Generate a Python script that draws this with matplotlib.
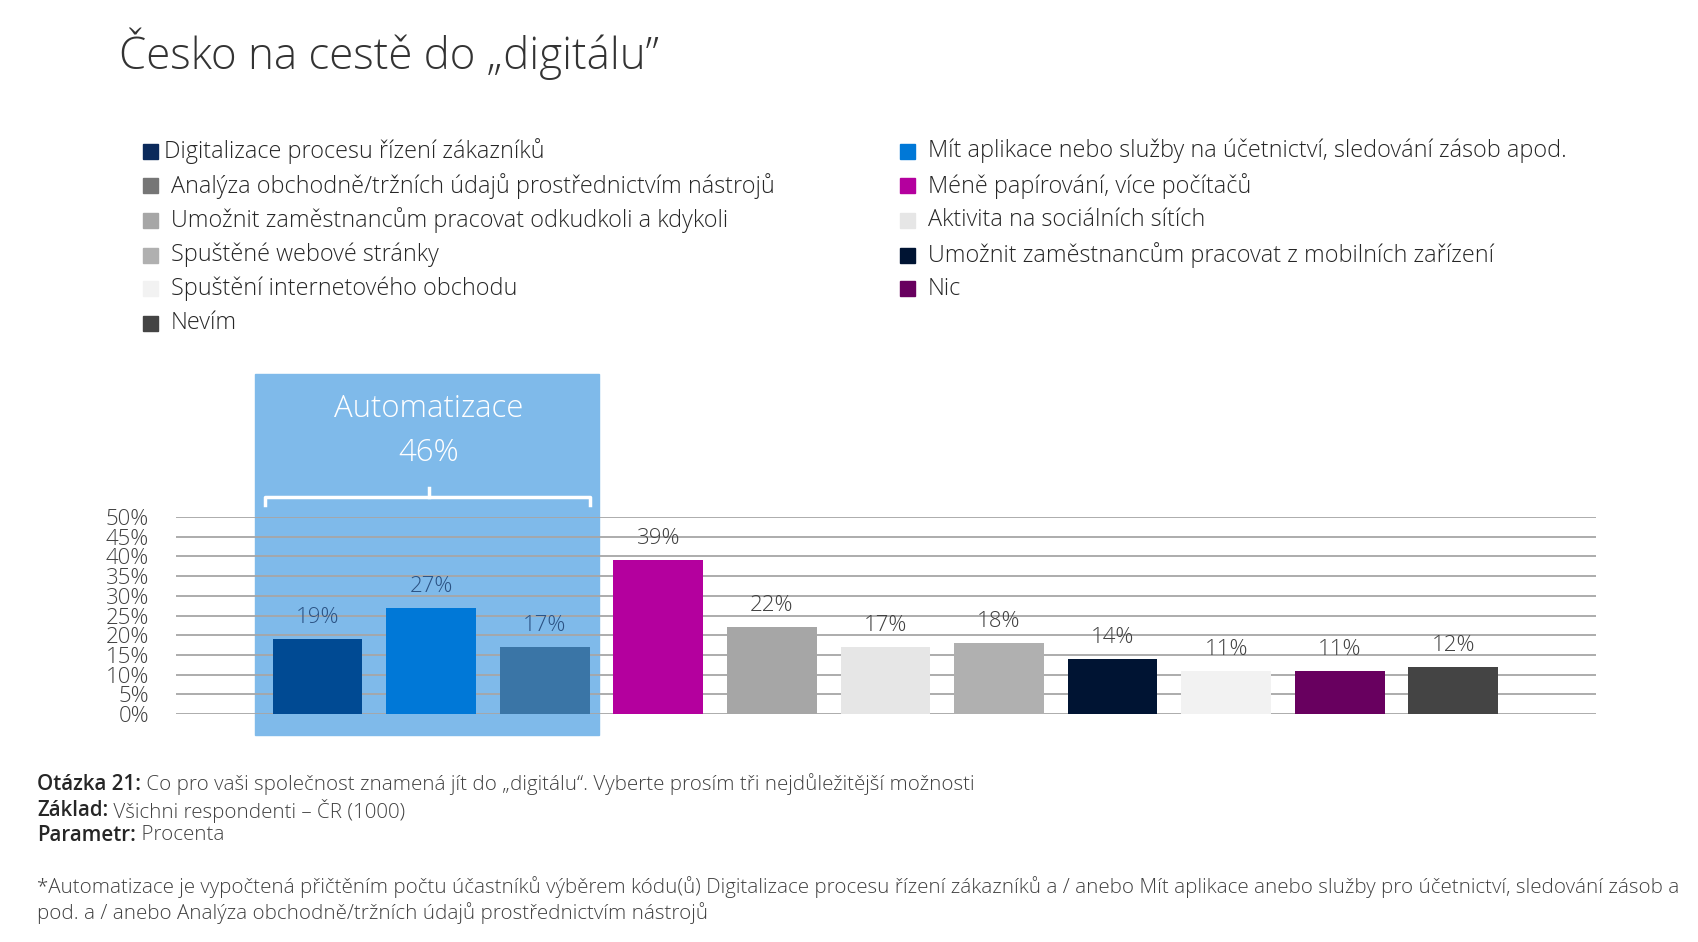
import numpy as np
import matplotlib
matplotlib.use('Agg')
import matplotlib.pyplot as plt
from matplotlib.patches import Rectangle

plt.rcParams['font.family'] = ['Open Sans', 'DejaVu Sans']

# data
categories = ['Digitalizace procesu řízení zákazníků',
              'Mít aplikace nebo služby na účetnictví, sledování zásob apod.',
              'Analýza obchodně/tržních údajů prostřednictvím nástrojů',
              'Méně papírování, více počítačů',
              'Umožnit zaměstnancům pracovat odkudkoli a kdykoli',
              'Aktivita na sociálních sítích',
              'Spuštěné webové stránky',
              'Umožnit zaměstnancům pracovat z mobilních zařízení',
              'Spuštění internetového obchodu',
              'Nic',
              'Nevím']
values = [19, 27, 17, 39, 22, 17, 18, 14, 11, 11, 12]
bar_colors = ['#004A93', '#0078D7', '#3A75A6', '#B4009E', '#A6A6A6', '#E6E6E6',
              '#B0B0B0', '#001433', '#F2F2F2', '#68005F', '#444444']

legend_left = ['Digitalizace procesu řízení zákazníků',
               'Analýza obchodně/tržních údajů prostřednictvím nástrojů',
               'Umožnit zaměstnancům pracovat odkudkoli a kdykoli',
               'Spuštěné webové stránky',
               'Spuštění internetového obchodu',
               'Nevím']
legend_left_colors = ['#0B2A5B', '#767676', '#A6A6A6', '#B0B0B0', '#F2F2F2', '#444444']
legend_right = ['Mít aplikace nebo služby na účetnictví, sledování zásob apod.',
                'Méně papírování, více počítačů',
                'Aktivita na sociálních sítích',
                'Umožnit zaměstnancům pracovat z mobilních zařízení',
                'Nic']
legend_right_colors = ['#0078D7', '#B4009E', '#E6E6E6', '#001433', '#68005F']

yticks = [0, 5, 10, 15, 20, 25, 30, 35, 40, 45, 50]
group_label = 'Automatizace'
group_value = '46%'

footer = [('Otázka 21:', ' Co pro vaši společnost znamená jít do „digitálu“. Vyberte prosím tři nejdůležitější možnosti'),
          ('Základ:', ' Všichni respondenti – ČR (1000)'),
          ('Parametr:', ' Procenta')]
footnote = ['*Automatizace je vypočtená přičtěním počtu účastníků výběrem kódu(ů) Digitalizace procesu řízení zákazníků a / anebo Mít aplikace anebo služby pro účetnictví, sledování zásob a',
            'pod. a / anebo Analýza obchodně/tržních údajů prostřednictvím nástrojů']

W, H = 1699, 942
fig = plt.figure(figsize=(W / 100, H / 100), dpi=100)

def fx(px):
    return px / W

def fy(py):
    return 1 - py / H

# title
fig.text(fx(119), fy(53.5), 'Česko na cestě do „digitálu”', fontsize=31.6, fontweight='light',
         color='#333333', va='center', ha='left')

# legend
sq = 15
rows = [151, 185.6, 220.3, 255, 288.6, 323.3]
for i, (lab, c) in enumerate(zip(legend_left, legend_left_colors)):
    y = rows[i]
    fig.patches.append(Rectangle((fx(143), fy(y + sq / 2)), sq / W, sq / H, color=c,
                                 transform=fig.transFigure, figure=fig))
    tx = 164 if i == 0 else 171
    fig.text(fx(tx), fy(y), lab, fontsize=16.8, fontweight='light', color='#262626',
             va='center', ha='left')
for i, (lab, c) in enumerate(zip(legend_right, legend_right_colors)):
    y = rows[i]
    fig.patches.append(Rectangle((fx(900), fy(y + sq / 2)), sq / W, sq / H, color=c,
                                 transform=fig.transFigure, figure=fig))
    fig.text(fx(928), fy(y), lab, fontsize=16.8, fontweight='light', color='#262626',
             va='center', ha='left')

# chart
ax = fig.add_axes([fx(175.6), fy(714), fx(1596) - fx(175.6), fy(517) - fy(714)])
x = np.arange(len(values))
ax.set_xlim(-1.25, 11.256)
ax.set_ylim(0, 50)
ax.patch.set_alpha(0)

# highlighted group box
ax.add_patch(Rectangle((-0.553, -5.3), 3.034, 91.6, color='#7FBAEA', zorder=0, clip_on=False))
for t in yticks:
    ax.axhline(t, color='#A6A6A6', lw=1.3, zorder=1)
ax.bar(x, values, width=0.79, color=bar_colors, zorder=2)

for i, v in enumerate(values):
    col = '#2B5283' if i < 3 else '#404040'
    ax.annotate(f'{v}%', (x[i], v), xytext=(0, 15.5), textcoords='offset points',
                ha='center', va='center', fontsize=16, fontweight='light', color=col)

ax.set_yticks(yticks)
ax.set_yticklabels([f'{t}%' for t in yticks], fontsize=16, fontweight='light', color='#404040')
ax.tick_params(axis='y', length=0, pad=19)
ax.set_xticks([])
for s in ax.spines.values():
    s.set_visible(False)

# bracket
bx0, bx1, bxm = -0.46, 2.40, 0.98
ax.plot([bx0, bx0, bx1, bx1], [53.0, 55.2, 55.2, 53.0], color='white', lw=2.5,
        clip_on=False, zorder=3, solid_joinstyle='round')
ax.plot([bxm, bxm], [55.2, 57.4], color='white', lw=2.5, clip_on=False, zorder=3)
ax.text(bxm, 77.5, group_label, ha='center', va='center', fontsize=22.4, fontweight='light',
        color='white', zorder=3)
ax.text(bxm, 66.3, group_value, ha='center', va='center', fontsize=22.4, fontweight='light',
        color='white', zorder=3)

# footer
renderer = fig.canvas.get_renderer()
for (b, rest), y in zip(footer, [784.5, 810.5, 835.5]):
    t = fig.text(fx(37), fy(y), b, fontsize=14.8, fontweight='semibold', color='#262626',
                 va='center', ha='left')
    bb = t.get_window_extent(renderer)
    fig.text(bb.x1 / W, fy(y), rest, fontsize=14.8, fontweight='light', color='#404040',
             va='center', ha='left')
for line, y in zip(footnote, [887.5, 913.5]):
    fig.text(fx(37), fy(y), line, fontsize=14.8, fontweight='light', color='#404040',
             va='center', ha='left')

fig.savefig('out.png', dpi=100)
